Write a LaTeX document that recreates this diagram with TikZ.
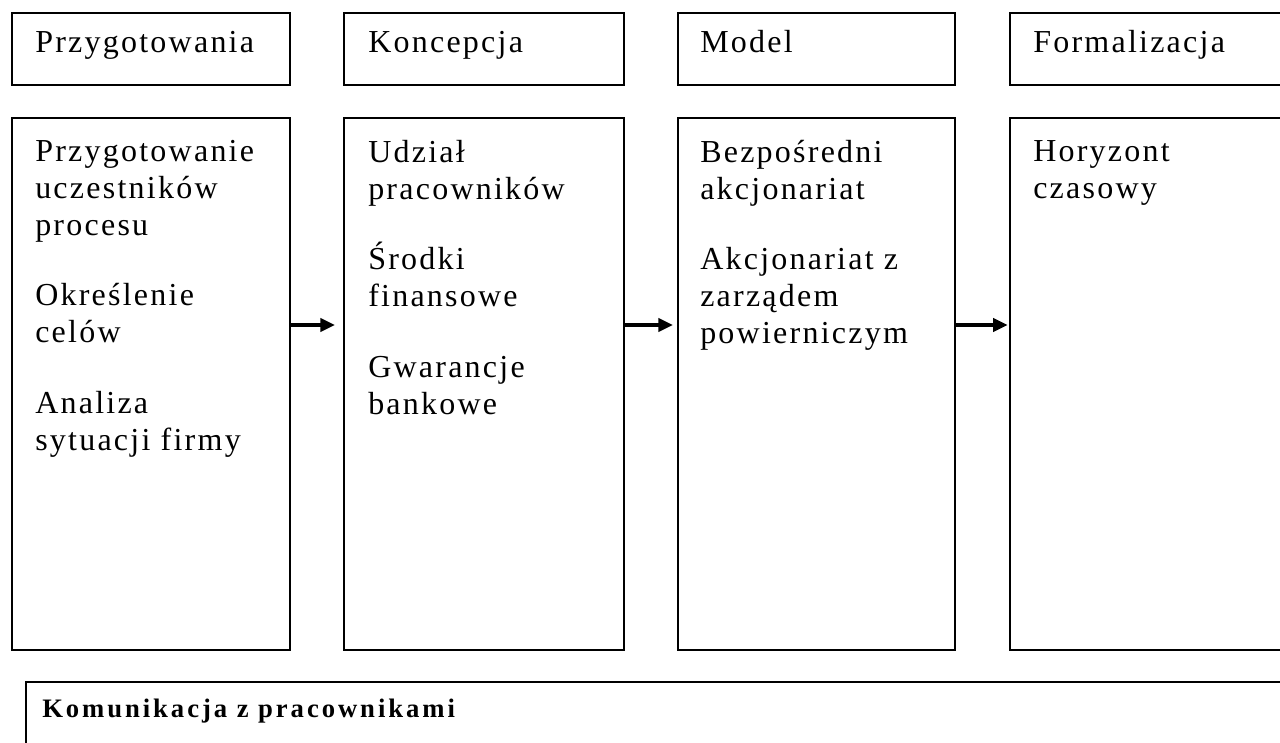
\documentclass[tikz,border=0pt]{standalone}
\usepackage{fontspec}
\setmainfont{Liberation Serif}[LetterSpace=7]
\usetikzlibrary{arrows.meta}

\begin{document}
\begin{tikzpicture}[x=0.75pt, y=-0.75pt,
    stagebox/.style={draw, line width=1.5pt, anchor=north west, inner sep=0pt, minimum height=54pt},
    stepbox/.style={draw, line width=1.5pt, anchor=north west, inner sep=0pt, minimum height=399pt},
    label/.style={anchor=base west, inner sep=0pt, font=\fontsize{24}{27.75}\selectfont},
    items/.style={anchor=north west, inner sep=0pt, align=left, font=\fontsize{24}{27.75}\selectfont},
    flow/.style={line width=2.4pt, -{Triangle[length=11pt, width=10pt]}}]
    \useasboundingbox (0,0) rectangle (1280,742);
    \clip (0,0) rectangle (1280,742);

    % phase headers
    \node[stagebox, minimum width=208.5pt] (head1) at (11,12) {};
    \node[stagebox, minimum width=210pt] (head2) at (343,12) {};
    \node[stagebox, minimum width=207.75pt] (head3) at (677,12) {};
    \node[stagebox, minimum width=220pt] (head4) at (1009,12) {};

    \node[label] (headtext1) at (35,53) {Przygotowania};
    \node[label] (headtext2) at (368,53) {Koncepcja};
    \node[label] (headtext3) at (700,53) {Model};
    \node[label] (headtext4) at (1033,53) {Formalizacja};

    % phase contents
    \node[stepbox, minimum width=208.5pt] (step1) at (11,117) {};
    \node[stepbox, minimum width=210pt] (step2) at (343,117) {};
    \node[stepbox, minimum width=207.75pt] (step3) at (677,117) {};
    \node[stepbox, minimum width=220pt] (step4) at (1009,117) {};

    \node[items] (items1) at (35,140) {Przygotowanie\\uczestników\\procesu\\[25pt]Określenie\\celów\\[25pt]Analiza\\sytuacji firmy};
    \node[items] (items2) at (368,140) {Udział\\pracowników\\[25pt]Środki\\finansowe\\[25pt]Gwarancje\\bankowe};
    \node[items] (items3) at (700,140) {Bezpośredni\\akcjonariat\\[25pt]Akcjonariat z\\zarządem\\powierniczym};
    \node[items] (items4) at (1033,140) {Horyzont\\czasowy};

    \coordinate (arrowrow) at (0,325);
    \draw[flow, shorten >=6pt] (step1.east |- arrowrow) -- (step2.west |- arrowrow);
    \draw[flow, shorten >=3pt] (step2.east |- arrowrow) -- (step3.west |- arrowrow);
    \draw[flow, shorten >=1pt] (step3.east |- arrowrow) -- (step4.west |- arrowrow);

    % communication bar
    \node[draw, line width=1.5pt, anchor=north west, inner sep=0pt, minimum width=980pt, minimum height=80pt] (comm) at (25,681) {};
    \node[label, font=\fontsize{20}{22}\selectfont\bfseries\addfontfeatures{LetterSpace=11}] (commtext) at (42,717) {Komunikacja z pracownikami};
\end{tikzpicture}
\end{document}
